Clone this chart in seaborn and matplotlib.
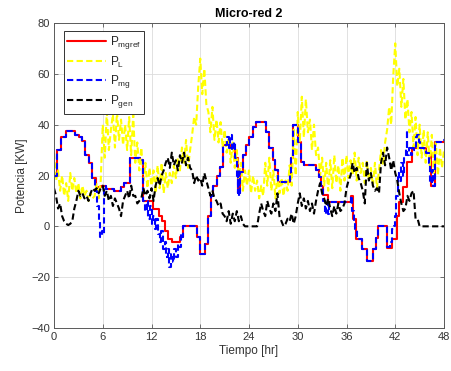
import numpy as np
import pandas as pd
import seaborn as sns
import matplotlib.pyplot as plt

# P_mgref: step reference (change points)
ref_t = [0, 0.4, 0.9, 1.5, 2.6, 3.1, 3.5, 3.8, 4.3, 4.7, 5.2, 5.8, 6.4, 7.4, 8.2, 8.6,
         9.3, 10.6, 11.0, 12.2, 12.9, 13.3, 13.6, 14.0, 14.5, 15.5, 15.9, 17.6, 18.0,
         18.6, 19.0, 19.3, 19.6, 20.0, 20.4, 20.8, 21.8, 22.3, 22.6, 22.9, 23.2, 23.6,
         24.0, 24.5, 24.9, 26.1, 26.5, 26.9, 27.2, 27.6, 29.0, 29.2, 29.4, 30.0, 30.4,
         30.8, 32.2, 32.6, 32.9, 33.1, 33.7, 36.5, 36.8, 37.2, 37.9, 38.5, 39.2, 39.6,
         39.9, 41.0, 41.6, 42.2, 42.5, 43.0, 43.4, 44.0, 45.8, 46.4, 46.9, 48.0]
ref_v = [20, 30, 35, 37.5, 36, 35, 33.5, 28, 25, 19, 15.5, 16, 14.5, 14, 15.5, 17,
         27, 26, 10, 6.7, 4, 2, -2, -5, -6, -4, 0, -4, -11,
         -7, 4, 12, 16, 20, 23.5, 32, 31, 27, 13, 21.5, 28, 32,
         35, 39, 41, 37, 31, 26, 22, 17.6, 20.4, 27, 40, 33, 25.5,
         24, 22, 19.6, 15.7, 12.5, 9.4, 12, 2.7, -5, -9, -13.6, -9, -4.5,
         0, -8.4, -5, 4, 9.4, 15.3, 25.5, 31, 29, 15.7, 33, 33]

# P_mg: measured microgrid power
mg_t = [0, 0.4, 0.9, 1.5, 2.6, 3.1, 3.5, 3.8, 4.3, 4.7, 5.0, 5.3, 5.5, 5.7, 5.9, 6.0,
        6.1, 6.4, 7.4, 8.2, 8.6, 9.3, 10.6, 11.0, 11.2, 11.4, 11.6, 11.8, 12.0, 12.2,
        12.4, 12.6, 12.8, 13.0, 13.2, 13.4, 13.6, 13.8, 14.0, 14.2, 14.4, 14.6, 14.8,
        15.0, 15.2, 15.4, 15.6, 15.8, 15.9, 17.6, 18.0, 18.6, 19.0, 19.3, 19.6, 20.0,
        20.4, 20.8, 21.0, 21.3, 21.5, 21.7, 21.9, 22.1, 22.3, 22.5, 22.6, 22.7, 22.8,
        22.9, 23.2, 23.6, 24.0, 24.5, 24.9, 26.1, 26.5, 26.9, 27.2, 27.6, 29.0, 29.2,
        29.4, 30.0, 30.4, 30.8, 32.2, 32.6, 32.9, 33.1, 33.3, 33.5, 33.7, 33.9, 36.5,
        36.7, 36.9, 37.1, 37.3, 37.9, 38.5, 39.2, 39.6, 39.9, 41.0, 41.3, 41.6, 41.8,
        42.0, 42.1, 42.3, 42.5, 42.7, 42.9, 43.1, 43.3, 43.4, 43.5, 43.7, 43.9, 44.1,
        44.3, 44.5, 44.7, 44.9, 45.1, 45.5, 45.8, 46.1, 46.3, 46.5, 46.7, 46.9, 47.6,
        48.0]
mg_v = [20, 30, 35, 37.5, 36, 35, 33.5, 28, 25, 19, 14, 8, 2, -4, -2, -3,
        16, 14.5, 14, 15.5, 17, 27, 26, 10, 6, 10, 3, 8, 1, 4,
        -1, 3, -3, -6, -2, -9, -6, -12, -9, -16, -11, -14, -9,
        -12, -7, -8, -3, -4, 0, -4, -11, -7, 4, 12, 16, 20,
        23.5, 32, 32, 35, 31, 36, 30, 33, 27, 20, 13, 22, 12,
        21.5, 28, 32, 35, 39, 41, 37, 31, 26, 22, 17.6, 20.4, 27,
        40, 33, 25.5, 24, 22, 19.6, 15.7, 10, 5, 9, 5, 9.4, 12,
        6, 2, -1, -5, -9, -13.6, -9, -4.5, 0, -8, -6, -1, 0,
        4, 12, 21, 18, 25, 20, 27, 31, 38, 28, 31, 28, 31,
        30, 35, 36, 33, 31, 30, 29, 25, 17, 22, 16, 33, 34,
        34]

# P_L and P_gen sampled every 15 min
load = [29, 18, 22, 14, 20, 12, 17, 10, 21, 14, 19, 13, 17, 11, 16, 12,
        14, 10, 13, 11, 12, 17, 11, 18, 40, 27, 45, 30, 38, 44, 31, 45,
        34, 42, 32, 40, 30, 43, 28, 44, 25, 33, 22, 31, 18, 25, 15, 23,
        16, 22, 13, 24, 15, 25, 13, 21, 15, 21, 17, 24, 19, 27, 22, 31,
        25, 34, 23, 30, 36, 43, 40, 55, 66, 52, 62, 48, 45, 37, 47, 34,
        42, 33, 41, 31, 38, 29, 35, 25, 33, 23, 30, 18, 25, 14, 22, 16,
        22, 13, 20, 14, 18, 11, 16, 12, 25, 16, 27, 14, 22, 11, 20, 13,
        19, 12, 18, 14, 24, 16, 38, 20, 45, 33, 51, 35, 50, 37, 42, 30,
        40, 28, 31, 20, 27, 16, 25, 14, 26, 15, 28, 17, 24, 14, 27, 18,
        28, 19, 26, 20, 29, 18, 27, 21, 25, 17, 26, 18, 23, 16, 25, 15,
        22, 30, 24, 33, 38, 47, 40, 59, 72, 55, 62, 47, 58, 42, 50, 37,
        45, 31, 43, 28, 40, 27, 38, 25, 37, 24, 36, 21, 33, 20, 31, 23,
        30]
gen = [15, 12, 7, 9, 4, 2, 1, 0.5, 1, 2, 7, 10, 14, 12, 13, 11,
       12, 10, 13, 15, 14, 15, 13, 15, 16, 12, 14, 10, 12, 8, 11, 9,
       7, 4, 10, 12, 14, 11, 16, 12, 12, 9, 10, 11, 15, 12, 14, 11,
       15, 10, 16, 19, 16, 20, 22, 25, 27, 23, 29, 24, 26, 22, 28, 25,
       29, 24, 27, 23, 22, 17, 20, 18, 19, 16, 21, 18, 15, 12, 14, 11,
       10, 8, 9, 5, 4, 2, 6, 1, 5, 2, 6, 2, 4, 1, 0, 0,
       0, 0, 0, 0, 0, 5, 9, 6, 4, 10, 7, 5, 9, 6, 13, 4,
       2, 0, 1, 3, 2, 5, 1, 4, 9, 13, 8, 11, 7, 10, 6, 9,
       5, 10, 14, 17, 13, 11, 8, 11, 7, 4, 8, 5, 9, 6, 7, 9,
       15, 18, 20, 25, 21, 23, 19, 17, 14, 9, 25, 18, 21, 16, 14, 15,
       13, 25, 29, 24, 31, 27, 22, 26, 21, 18, 13, 9, 6, 7, 12, 10,
       13, 14, 3, 3, 0, 0, 0, 0, 0, 0, 0, 0, 0, 0, 0, 0,
       0]
t_q = np.arange(len(load)) * 0.25

x_ticks = [0, 6, 12, 18, 24, 30, 36, 42, 48]
y_ticks = [-40, -20, 0, 20, 40, 60, 80]

sns.set_theme(style="whitegrid")
plt.rcParams['font.family'] = ['Liberation Sans', 'DejaVu Sans']
plt.rcParams['mathtext.fontset'] = 'custom'
plt.rcParams['mathtext.rm'] = 'Liberation Sans'

fig = plt.figure(figsize=(4.51, 3.71), dpi=100)
ax = fig.add_axes([54 / 451, 1 - 328 / 371, 390 / 451, 305 / 371])

dash = (0, (3, 1.6))
sns.lineplot(x=ref_t, y=ref_v, ax=ax, color='red', lw=1.5,
             drawstyle='steps-post', label=r'P$_{\rm mgref}$')
sns.lineplot(x=t_q, y=load, ax=ax, color='yellow', lw=1.5,
             linestyle=dash, label=r'P$_{\rm L}$')
sns.lineplot(x=mg_t, y=mg_v, ax=ax, color='blue', lw=1.5,
             drawstyle='steps-post', linestyle=dash, label=r'P$_{\rm mg}$')
sns.lineplot(x=t_q, y=gen, ax=ax, color='black', lw=1.5,
             linestyle=dash, label=r'P$_{\rm gen}$')

ax.set_xlim(0, 48)
ax.set_ylim(-40, 80)
ax.set_xticks(x_ticks)
ax.set_yticks(y_ticks)
ax.grid(True, color='#dcdcdc', lw=0.6)
ax.set_facecolor('white')
for s in ax.spines.values():
    s.set_visible(True)
    s.set_color('#5a5a5a')
    s.set_linewidth(0.7)
ax.tick_params(direction='in', length=3, width=0.6, colors='#5a5a5a',
               labelcolor='#333333', labelsize=8, top=True, right=True,
               bottom=True, left=True, pad=3)

ax.set_title('Micro-red 2', fontsize=9, fontweight='bold', color='black', pad=4)
ax.set_xlabel('Tiempo [hr]', fontsize=8.5, color='#333333', labelpad=2)
ax.set_ylabel('Potencia [KW]', fontsize=8.5, color='#333333', labelpad=2)

leg = ax.legend(loc='upper left', bbox_to_anchor=(0.025, 0.975), fontsize=8.5,
                frameon=True, fancybox=False, framealpha=1, edgecolor='#333333',
                handlelength=3.3, labelspacing=0.28, borderpad=0.3,
                handletextpad=0.3, borderaxespad=0)
leg.get_frame().set_linewidth(0.7)

fig.savefig('out.png', dpi=100, facecolor='white')
